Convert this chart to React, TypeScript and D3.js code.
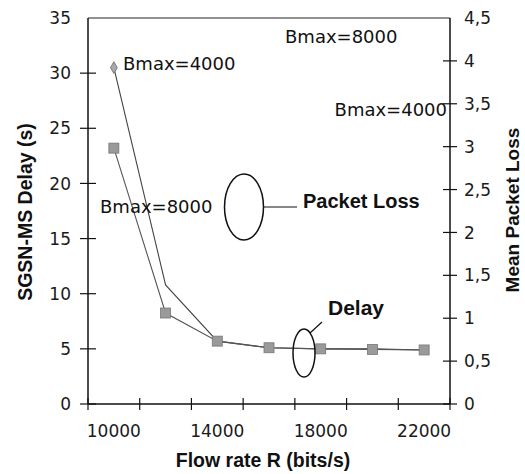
import React from "react";
import * as d3 from "d3";

const categories = ["10000", "12000", "14000", "16000", "18000", "20000", "22000"];
const shownLabels = ["10000", "14000", "18000", "22000"];
const delayBmax4000 = [30.5, 10.8, 5.7, 5.1, 5.0, 5.0, 4.9];
const delayBmax8000 = [23.2, 8.25, 5.7, 5.1, 5.0, 4.95, 4.9];
const leftTicks = [0, 5, 10, 15, 20, 25, 30, 35];
const rightTicks = [0, 0.5, 1, 1.5, 2, 2.5, 3, 3.5, 4, 4.5];

const W = 525;
const H = 474;
const L = 88, R = 450, T = 18, B = 404;

export default function App() {
  const x = d3.scaleBand<string>().domain(categories).range([L, R]);
  const yL = d3.scaleLinear().domain([0, 35]).range([B, T]);
  const yR = d3.scaleLinear().domain([0, 4.5]).range([B, T]);
  const cx = (c: string) => (x(c) as number) + x.bandwidth() / 2;
  const line = d3
    .line<number>()
    .x((_, i) => cx(categories[i]))
    .y((d) => yL(d));
  const fmtR = (v: number) => String(v).replace(".", ",");
  const tickFont = "DejaVu Sans, sans-serif";
  const boldFont = "Liberation Sans, Arial, sans-serif";
  const boundaries = categories.map((c) => x(c) as number).concat([R]);

  return (
    <div style={{ position: "absolute", left: 0, top: 0 }}>
      <svg width={W} height={H} style={{ display: "block", background: "#fff" }}>
        {/* frame */}
        <line x1={L} x2={R} y1={T} y2={T} stroke="#222" strokeWidth={1} />
        <line x1={L} x2={L} y1={T} y2={B} stroke="#111" strokeWidth={1.5} />
        <line x1={R} x2={R} y1={T} y2={B} stroke="#111" strokeWidth={1.5} />
        <line x1={L} x2={R} y1={B} y2={B} stroke="#111" strokeWidth={1.5} />

        {/* left ticks */}
        {leftTicks.map((t) => (
          <g key={"l" + t}>
            {t !== 35 && <line x1={L - 8} x2={L + 8} y1={yL(t)} y2={yL(t)} stroke="#111" strokeWidth={1.2} />}
            <text x={71} y={yL(t)} dy="0.36em" textAnchor="end" fontFamily={tickFont} fontSize={17} fill="#1a1a1a">
              {t}
            </text>
          </g>
        ))}

        {/* right ticks */}
        {rightTicks.map((t) => (
          <g key={"r" + t}>
            {t !== 4.5 && <line x1={R - 7} x2={R + 7} y1={yR(t)} y2={yR(t)} stroke="#111" strokeWidth={1.2} />}
            <text x={464} y={yR(t)} dy="0.36em" textAnchor="start" fontFamily={tickFont} fontSize={17} fill="#1a1a1a">
              {fmtR(t)}
            </text>
          </g>
        ))}

        {/* x ticks */}
        {boundaries.map((b, i) => (
          <line key={"x" + i} x1={b} x2={b} y1={B - 6} y2={B + 6} stroke="#111" strokeWidth={1.2} />
        ))}
        {shownLabels.map((c) => (
          <text key={"xl" + c} x={cx(c)} y={437} textAnchor="middle" fontFamily={tickFont} fontSize={17} fill="#1a1a1a">
            {c}
          </text>
        ))}

        {/* axis titles */}
        <text x={263} y={467} textAnchor="middle" fontFamily={boldFont} fontWeight="bold" fontSize={19.5} fill="#111">
          Flow rate R (bits/s)
        </text>
        <text
          transform={`translate(32,212) rotate(-90)`}
          textAnchor="middle"
          fontFamily={boldFont}
          fontWeight="bold"
          fontSize={19.5}
          fill="#111"
        >
          SGSN-MS Delay (s)
        </text>
        <text
          transform={`translate(519,210) rotate(-90)`}
          textAnchor="middle"
          fontFamily={boldFont}
          fontWeight="bold"
          fontSize={19}
          fill="#111"
        >
          Mean Packet Loss
        </text>

        {/* series */}
        <path d={line(delayBmax4000) || ""} fill="none" stroke="#444" strokeWidth={1.1} />
        <path d={line(delayBmax8000) || ""} fill="none" stroke="#555" strokeWidth={1.1} />
        {delayBmax8000.map((v, i) => (
          <rect
            key={"s" + i}
            x={cx(categories[i]) - 5}
            y={yL(v) - 5}
            width={10}
            height={10}
            fill="#9a9a9a"
            stroke="#777"
            strokeWidth={0.8}
          />
        ))}
        {delayBmax4000.map((v, i) =>
          i === 0 ? (
            <path
              key={"d" + i}
              d={d3.symbol().type(d3.symbolDiamond).size(40)() || ""}
              transform={`translate(${cx(categories[i])},${yL(v)})`}
              fill="#aaa"
              stroke="#666"
              strokeWidth={0.8}
            />
          ) : null
        )}

        {/* annotations */}
        <text x={123} y={70} fontFamily={tickFont} fontSize={18} fill="#111">Bmax=4000</text>
        <text x={100} y={213} fontFamily={tickFont} fontSize={18} fill="#111">Bmax=8000</text>
        <text x={285} y={43} fontFamily={tickFont} fontSize={18} fill="#111">Bmax=8000</text>
        <text x={447} y={116} textAnchor="end" fontFamily={tickFont} fontSize={18} fill="#111">Bmax=4000</text>

        <ellipse cx={244} cy={207} rx={19.5} ry={33} fill="none" stroke="#111" strokeWidth={1.5} />
        <line x1={264} x2={297} y1={207} y2={207} stroke="#111" strokeWidth={1.2} />
        <text x={303} y={208} fontFamily={boldFont} fontWeight="bold" fontSize={20} fill="#111">Packet Loss</text>

        <ellipse cx={304} cy={353} rx={11} ry={24} fill="none" stroke="#111" strokeWidth={1.5} />
        <line x1={310} x2={322} y1={333} y2={322} stroke="#111" strokeWidth={1.2} />
        <text x={328} y={315} fontFamily={boldFont} fontWeight="bold" fontSize={21} fill="#111">Delay</text>
      </svg>
    </div>
  );
}
